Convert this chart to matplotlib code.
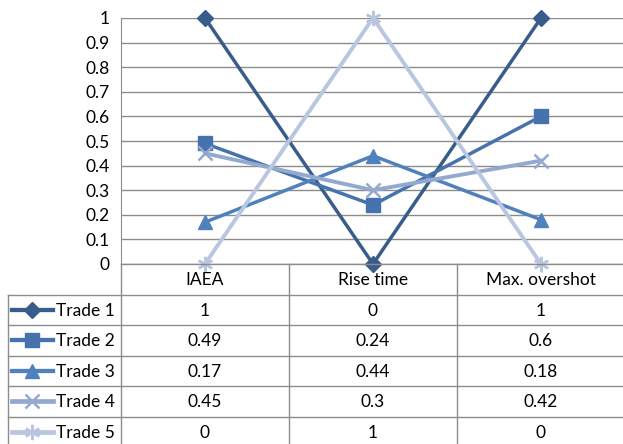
import matplotlib.pyplot as plt

# criteria and normalised scores per trade-off setting
criteria = ['IAEA', 'Rise time', 'Max. overshot']
trade_1 = [1, 0, 1]
trade_2 = [0.49, 0.24, 0.6]
trade_3 = [0.17, 0.44, 0.18]
trade_4 = [0.45, 0.3, 0.42]
trade_5 = [0, 1, 0]
series_names = ['Trade 1', 'Trade 2', 'Trade 3', 'Trade 4', 'Trade 5']
series_values = [trade_1, trade_2, trade_3, trade_4, trade_5]
y_ticks = [0, 0.1, 0.2, 0.3, 0.4, 0.5, 0.6, 0.7, 0.8, 0.9, 1]

colors = ['#385d8a', '#4672ae', '#4f81bd', '#93a9cf', '#b9c6e0']
markers = ['D', 's', '^', 'x', (6, 2, 0)]
msizes = [8.5, 9.5, 10, 10, 11]
lwidths = [2.5, 2.5, 2.5, 2.8, 2.8]
fs = 12.5

plt.rcParams['font.family'] = ['Lato', 'DejaVu Sans']
W, H = 623, 444
fig = plt.figure(figsize=(W / 100, H / 100), dpi=100)

# chart area in pixel units
px_left, px_right, px_top, px_bottom = 121, 625, 18, 264
ax = fig.add_axes([px_left / W, (H - px_bottom) / H,
                   (px_right - px_left) / W, (px_bottom - px_top) / H])
xs = list(range(len(criteria)))
for name, vals, c, m, ms, lw in zip(series_names, series_values, colors, markers, msizes, lwidths):
    ax.plot(xs, vals, color=c, marker=m, markersize=ms, lw=lw,
            markeredgewidth=1.8 if m in ('x', (6, 2, 0)) else 1,
            clip_on=False, zorder=3, label=name)
ax.set_xlim(-0.5, len(criteria) - 0.5)
ax.set_ylim(0, 1)
ax.set_yticks(y_ticks)
ax.set_yticklabels(['%g' % t for t in y_ticks], fontsize=fs)
ax.set_xticks([])
ax.tick_params(axis='y', length=0, pad=8)
ax.yaxis.grid(True, color='#8c8c8c', lw=1)
ax.set_axisbelow(True)
for s in ['top', 'right', 'bottom']:
    ax.spines[s].set_visible(False)
ax.spines['left'].set_color('#8c8c8c')

# data table under the chart, drawn on an overlay in pixel coordinates
tab = fig.add_axes([0, 0, 1, 1], facecolor='none')
tab.set_xlim(0, W)
tab.set_ylim(H, 0)
tab.axis('off')
grid_c = '#8c8c8c'
col_edges = [px_left + i * (px_right - px_left) / len(criteria) for i in range(len(criteria) + 1)]
header_bottom = 294.5
row_h = 30.5
row_edges = [header_bottom + i * row_h for i in range(len(series_names) + 1)]
table_left = 8

# header row
tab.plot([px_left, px_right], [px_bottom, px_bottom], color=grid_c, lw=1)
for x in col_edges:
    tab.plot([x, x], [px_bottom, row_edges[-1]], color=grid_c, lw=1)
for i, cat in enumerate(criteria):
    cx = (col_edges[i] + col_edges[i + 1]) / 2
    tab.text(cx, (px_bottom + header_bottom) / 2 + 1, cat, ha='center', va='center', fontsize=fs)

# body rows
tab.plot([table_left, table_left], [header_bottom, row_edges[-1]], color=grid_c, lw=1)
for y in row_edges:
    tab.plot([table_left, px_right], [y, y], color=grid_c, lw=1)
for r, (name, vals, c, m, ms, lw) in enumerate(zip(series_names, series_values, colors, markers, msizes, lwidths)):
    cy = (row_edges[r] + row_edges[r + 1]) / 2
    tab.plot([12, 53], [cy, cy], color=c, lw=lw + 0.6)
    tab.plot([32], [cy], color=c, marker=m, markersize=ms,
             markeredgewidth=1.8 if m in ('x', (6, 2, 0)) else 1)
    tab.text(56, cy + 1, name, ha='left', va='center', fontsize=fs)
    for i, v in enumerate(vals):
        cx = (col_edges[i] + col_edges[i + 1]) / 2
        tab.text(cx, cy + 1, '%g' % v, ha='center', va='center', fontsize=fs)

fig.savefig('out.png', dpi=100)
